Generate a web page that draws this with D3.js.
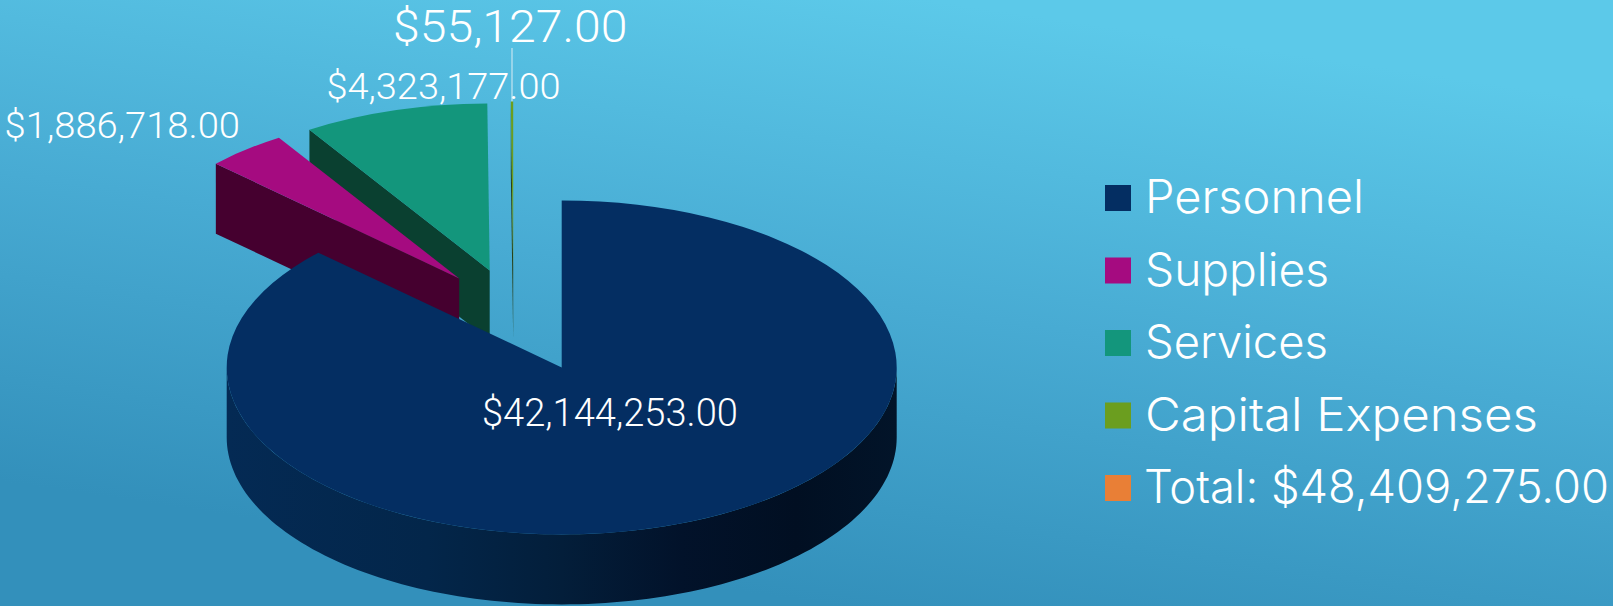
<!DOCTYPE html>
<html><head><meta charset="utf-8">
<script src="https://cdn.jsdelivr.net/npm/d3@7"></script>
<style>html,body{margin:0;padding:0;background:#45a8d0;overflow:hidden}svg{display:block}</style>
</head><body><svg id="c" width="1613" height="606"></svg>
<script>
const categories = ["Personnel","Supplies","Services","Capital Expenses"];
const values = [42144253,1886718,4323177,55127];
const totalValue = 48409275;
const totalPrefix = "Total: ";

const topColors = ["#042e62","#a50b80","#13967c","#6b9e1f"];
const sideColors = ["url(#wall)","#45002f","#0a4030","#27401a"];
const totalColor = "#e97f36";
const explode = [[0,0],[-102.5,-89],[-72,-97],[-48.5,-99]];
const labelBoxes = [
  {x:482,w:256,base:425.5,size:38},
  {x:4.6,w:235.5,base:137.7,size:36},
  {x:326.4,w:234.2,base:99,size:36},
  {x:393,w:234.5,base:41.5,size:44.5}];
const legendWidths = [219,184,183,393,465];

const W=1613,H=606,cx=561.7,cy=367.4,rx=335,ry=167,depth=70;
const svg=d3.select("#c");
const defs=svg.append("defs");
const bg=defs.append("linearGradient").attr("id","bg").attr("gradientUnits","userSpaceOnUse")
  .attr("x1",930).attr("y1",0).attr("x2",840).attr("y2",606);
[[0,"#5cc9e9"],[0.5,"#48abd3"],[1,"#3390bb"]].forEach(s=>bg.append("stop").attr("offset",s[0]).attr("stop-color",s[1]));
const wall=defs.append("linearGradient").attr("id","wall").attr("gradientUnits","userSpaceOnUse")
  .attr("x1",-rx).attr("y1",0).attr("x2",rx).attr("y2",0);
[[0,"#042a54"],[0.3,"#03264a"],[0.5,"#031e3a"],[0.68,"#02122a"],[0.85,"#010f22"],[1,"#021429"]]
  .forEach(s=>wall.append("stop").attr("offset",s[0]).attr("stop-color",s[1]));
svg.append("rect").attr("width",W).attr("height",H).attr("fill","url(#bg)");

const fmt=d3.format("$,.2f");
const arcs=d3.pie().sort(null).startAngle(0).endAngle(2*Math.PI)(values);
const px=a=>rx*Math.sin(a), py=a=>-ry*Math.cos(a);
const topArc=d3.arc().innerRadius(0).outerRadius(rx);
const pts=d3.line();

// leader line of the smallest slice
const capX=cx+explode[3][0]+px((arcs[3].startAngle+arcs[3].endAngle)/2);
svg.append("line").attr("x1",capX).attr("x2",capX).attr("y1",48).attr("y2",102)
  .attr("stroke","#c4e4f0").attr("stroke-width",1.2);

// back to front
[3,2,1,0].forEach(i=>{
  const d=arcs[i],[dx,dy]=explode[i];
  const g=svg.append("g").attr("transform",`translate(${cx+dx},${cy+dy})`);
  if(i===0){
    const steps=d3.range(0,121).map(k=>Math.PI/2+k/120*Math.PI);
    const upper=steps.map(a=>[px(a),py(a)]);
    const lower=steps.slice().reverse().map(a=>[px(a),py(a)+depth]);
    g.append("path").attr("d",pts(upper.concat(lower))+"Z").attr("fill",sideColors[i]);
  } else {
    const a=d.startAngle;
    g.append("path").attr("d",pts([[0,0],[px(a),py(a)],[px(a),py(a)+depth],[0,depth]])+"Z").attr("fill",sideColors[i]);
  }
  g.append("g").attr("transform",`scale(1,${ry/rx})`)
    .append("path").attr("d",topArc(d)).attr("fill",topColors[i]);
});

// text fitted to a target width by horizontal scaling
function fit(sel,x,y,w){
  sel.attr("fill","#fff");
  const n=sel.node().getComputedTextLength();
  sel.attr("transform",`translate(${x},${y}) scale(${w/n},1)`);
}

// data labels
values.forEach((v,i)=>{
  const b=labelBoxes[i];
  const t=svg.append("text").text(fmt(v))
    .attr("font-family","Roboto").attr("font-weight",300).attr("font-size",b.size);
  fit(t,b.x,b.base,b.w);
});

// legend
const legendY=d3.scalePoint().domain(d3.range(5)).range([198,488]);
const legendLabels=categories.concat([totalPrefix+fmt(totalValue)]);
const legendColors=topColors.concat([totalColor]);
const lg=svg.append("g").selectAll("g").data(legendLabels).join("g");
lg.append("rect").attr("x",1105).attr("width",26).attr("height",26)
  .attr("y",(d,i)=>legendY(i)-13).attr("fill",(d,i)=>legendColors[i]);
lg.append("text").text(d=>d)
  .attr("font-family","Inter").attr("font-weight",300).attr("font-size",46)
  .each(function(d,i){ fit(d3.select(this),i===4?1144:1145,legendY(i)+15.3,legendWidths[i]); });
</script></body></html>
